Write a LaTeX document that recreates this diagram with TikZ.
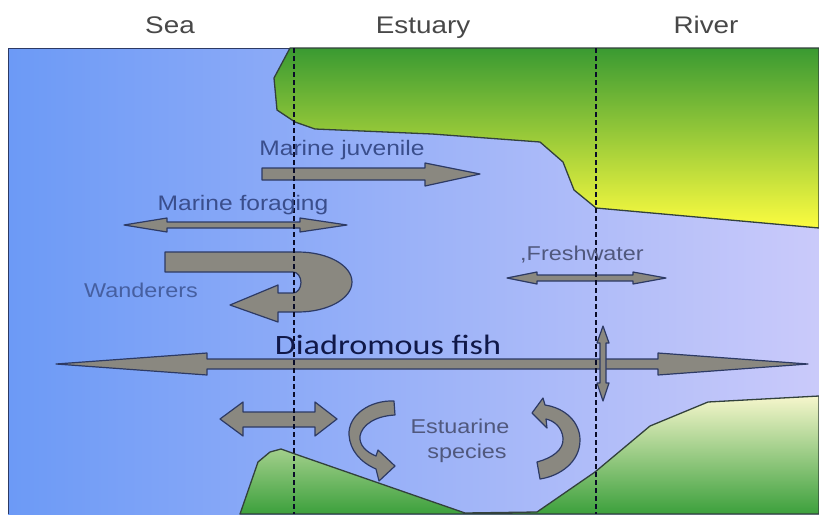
\documentclass[tikz,border=0pt]{standalone}
\usepackage{fontspec}
\newfontfamily\hdrfont[FakeStretch=1.16]{Liberation Sans}
\newfontfamily\lblfont[FakeStretch=1.17]{Liberation Sans}
\newfontfamily\diafont[FakeStretch=1.22]{Carlito}
\definecolor{waterL}{RGB}{108,154,246}
\definecolor{waterM}{RGB}{155,178,248}
\definecolor{waterR}{RGB}{202,202,250}
\definecolor{landG}{RGB}{58,154,50}
\definecolor{landY}{RGB}{252,252,64}
\definecolor{landP}{RGB}{246,246,204}
\definecolor{landB}{RGB}{60,160,60}
\definecolor{edgeC}{RGB}{50,65,60}
\definecolor{arrgray}{RGB}{138,136,128}
\definecolor{arredge}{RGB}{45,58,100}
\definecolor{hdrC}{RGB}{72,72,72}
\definecolor{lblC}{RGB}{58,78,140}
\definecolor{grayLbl}{RGB}{80,88,125}
\definecolor{diaC}{RGB}{16,24,72}
\definecolor{dashC}{RGB}{10,12,40}
\tikzset{
  arrowshape/.style={fill=arrgray, draw=arredge, line width=1.2pt, line join=round},
  landedge/.style={draw=edgeC, line width=1.3pt, line join=round},
  zoneline/.style={draw=dashC, line width=2.4pt, dash pattern=on 5pt off 3pt},
  hdr/.style={font=\hdrfont\fontsize{24}{28}\selectfont, text=hdrC, anchor=base, inner sep=0pt},
  lbl/.style={font=\lblfont\fontsize{21}{24}\selectfont, text=lblC, anchor=base, inner sep=0pt},
  glbl/.style={font=\lblfont\fontsize{20}{24}\selectfont, text=grayLbl, anchor=base, inner sep=0pt},
}
\begin{document}
\begin{tikzpicture}[x=1pt,y=-1pt]
\useasboundingbox (0,0) rectangle (819,514);
\fill[white] (0,0) rectangle (819,514);
% water
\shade[left color=waterL, middle color=waterM, right color=waterR] (8,48) rectangle (819,514);
\draw[draw=arredge, line width=1pt] (819,48) -- (8,48) -- (8,514);
% top land
\shade[top color=landG, bottom color=landY, landedge]
  (290,48) -- (274,78) -- (277,110) -- (295,122) -- (315,129) -- (432,134) -- (540,142)
  -- (563,162) -- (574,190) -- (596,208) -- (819,228) -- (819,48) -- cycle;
% bottom land
\shade[top color=landP, bottom color=landB, landedge]
  (240,514) -- (258,462) -- (270,452) -- (281,449) -- (295,454) -- (465,513) -- (537,512)
  -- (595,472) -- (650,426) -- (708,402) -- (819,396) -- (819,514) -- cycle;
% arrows
% marine juvenile
\filldraw[arrowshape] (262,168) -- (425,168) -- (425,163) -- (480,174) -- (425,186) -- (425,180) -- (262,180) -- cycle;
% marine foraging
\filldraw[arrowshape] (124,225) -- (167,218) -- (167,222) -- (300,222) -- (300,218) -- (347,225)
  -- (300,232) -- (300,228) -- (167,228) -- (167,232) -- cycle;
% wanderers
\filldraw[arrowshape] (165,252) -- (298,252) arc[start angle=-90, end angle=90, x radius=54, y radius=30]
  -- (278,312) -- (278,322) -- (230,305) -- (278,285) -- (278,293) -- (293,293)
  arc[start angle=90, end angle=-90, x radius=8, y radius=10.5] -- (165,272) -- cycle;
% freshwater
\filldraw[arrowshape] (507,278) -- (537,272) -- (537,275) -- (633,275) -- (633,272) -- (666,278)
  -- (633,284) -- (633,281) -- (537,281) -- (537,284) -- cycle;
% diadromous
\filldraw[arrowshape] (56,364) -- (207,353) -- (207,359) -- (658,359) -- (658,353) -- (808,364)
  -- (658,375) -- (658,369) -- (207,369) -- (207,375) -- cycle;
% vertical small arrow
\filldraw[arrowshape] (603,326) -- (609,343) -- (606,343) -- (606,383) -- (609,383) -- (603,401)
  -- (597,383) -- (600,383) -- (600,343) -- (597,343) -- cycle;
% lower-left double arrow
\filldraw[arrowshape] (220,419) -- (243,402) -- (243,412) -- (315,412) -- (315,402) -- (337,419)
  -- (315,436) -- (315,427) -- (243,427) -- (243,436) -- cycle;
% estuarine curved arrows
\filldraw[arrowshape] (394,401) .. controls (370,400) and (348,415) .. (349,435)
  .. controls (350,450) and (360,462) .. (376,469) -- (379,481) -- (395,466) -- (378,450) -- (376,456)
  .. controls (366,452) and (359,445) .. (360,436) .. controls (362,425) and (375,416) .. (395,415) -- cycle;
\filldraw[arrowshape] (532,413) -- (543,398) -- (545,405) .. controls (565,408) and (580,422) .. (580,440)
  .. controls (580,462) and (560,476) .. (540,479) -- (537,462) .. controls (552,458) and (564,450) .. (563,438)
  .. controls (562,428) and (555,421) .. (546,419) -- (547,428) -- cycle;
% zone lines
\draw[zoneline] (294,48) -- (294,514);
\draw[zoneline] (596,48) -- (596,514);
% headers
\node[hdr] (sea) at (170,33) {Sea};
\node[hdr] (estuary) at (423,33) {Estuary};
\node[hdr] (river) at (706,33) {River};
% labels
\node[lbl] (juv) at (342,155) {Marine juvenile};
\node[lbl] (forag) at (243,210) {Marine foraging};
\node[lbl, font=\lblfont\fontsize{20}{24}\selectfont, text={rgb,255:red,70;green,95;blue,160}] (wand) at (141,297) {Wanderers};
\node[glbl] (fresh) at (582,260) {,Freshwater};
\node[glbl] (estu) at (460,433) {Estuarine};
\node[glbl] (spec) at (467,458) {species};
\node[font=\diafont\fontsize{28}{32}\selectfont, text=diaC, anchor=base, inner sep=0pt] (dia) at (388,354) {Diadromous fish};
\end{tikzpicture}
\end{document}
